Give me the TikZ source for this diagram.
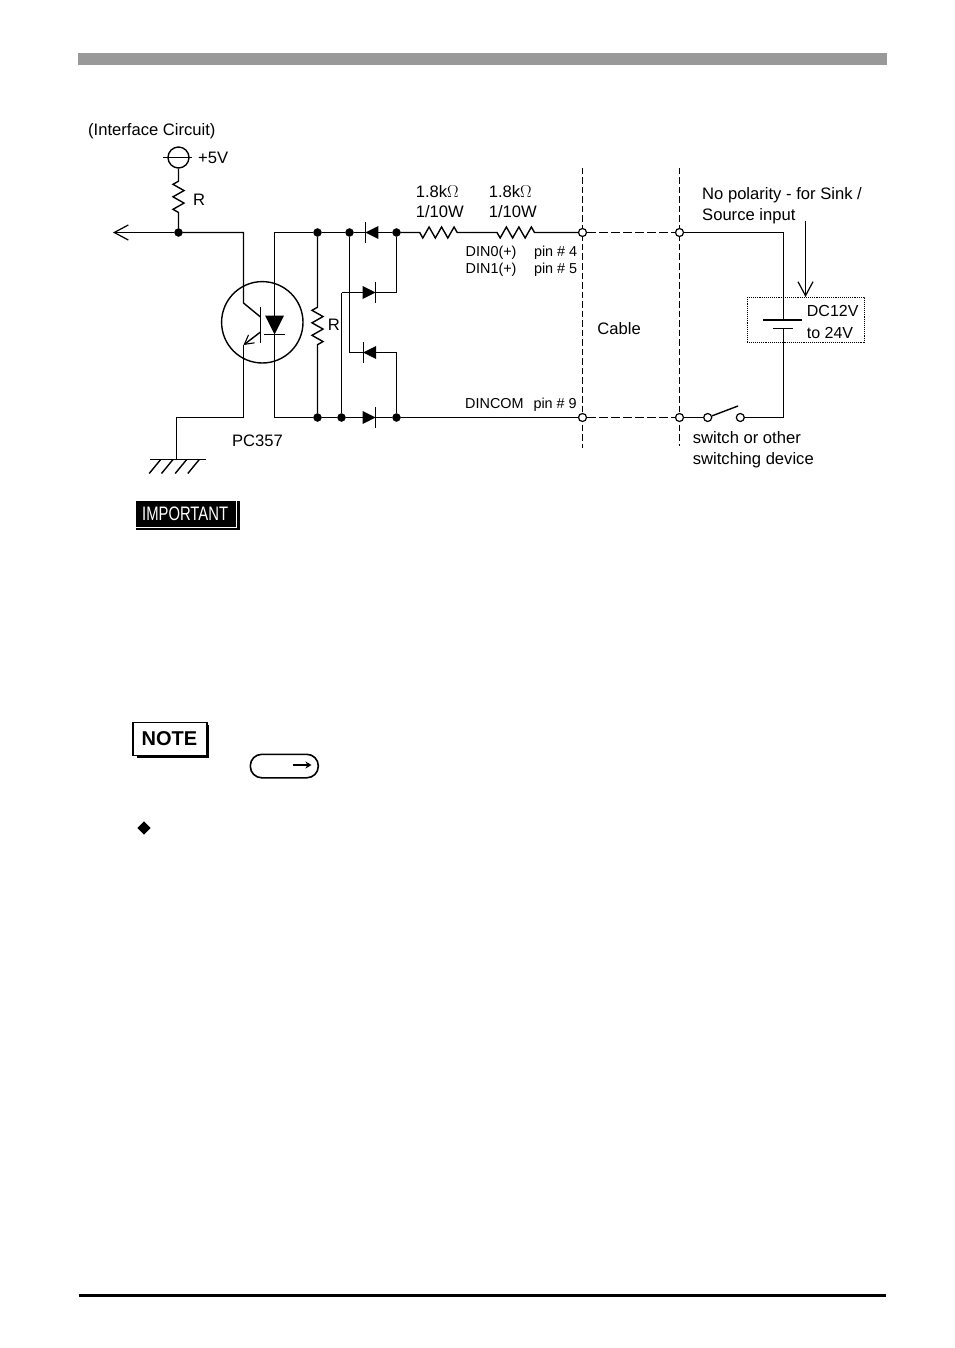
\documentclass[tikz,border=0pt]{standalone}
\usepackage{fontspec}
\setmainfont{Liberation Sans}
\usepackage{tikz}
\usetikzlibrary{arrows.meta,backgrounds,positioning,shapes.geometric,decorations.markings,decorations.pathmorphing}
\definecolor{headgray}{RGB}{153,153,153}
\tikzset{
    wire/.style={
    draw=black,line width=1.4pt
    },
    cablewire/.style={
    draw=black,line width=1.4pt,dash pattern=on 8.5pt off 3.5pt
    },
    cutline/.style={
    draw=black,line width=1.4pt,dash pattern=on 6.5pt off 3pt
    },
    junction/.style={
    circle,fill=black,draw=black,inner sep=0pt,minimum size=8pt
    },
    terminal/.style={
    circle,fill=white,draw=black,line width=1.2pt,inner sep=0pt,minimum size=8pt
    },
    resistor/.style 2 args={
    wire,decorate,decoration={zigzag,mirror,amplitude=5.5pt,segment length=12.5pt,pre length=#1,post length=#2}
    },
    diode/.style 2 args={
    wire,
    decoration={ markings,
      mark=at position #1 with {\fill[black] (-#2,-#2) -- (-#2,#2) -- (#2,0) -- cycle; \draw[line width=1.1pt] (#2,-10.5) -- (#2,10.5);}
      },
    postaction={decorate}
    },
    openarrow/.style={
    wire,-{Straight Barb[length=14pt,width=15pt,line width=1.2pt]}
    },
    txt/.style={
    inner sep=0pt,anchor=base west,font=\fontsize{16.6}{18}\selectfont
    },
    smalltxt/.style={
    inner sep=0pt,anchor=base west,font=\fontsize{14.4}{16}\selectfont
    },
}
\begin{document}
\begin{tikzpicture}[x=1pt,y=-1pt]
   \useasboundingbox (0,0) rectangle (954,1348);
   % page rules
   \node[fill=headgray,minimum width=809pt,minimum height=12pt,inner sep=0pt,anchor=north west] (headbar) at (78,53) {};
   \node[fill=black,minimum width=807pt,minimum height=2.6pt,inner sep=0pt,anchor=north west] (footbar) at (79,1294) {};

   % interface side
   \node[wire,circle,inner sep=0pt,minimum size=21pt] (plusv) at (178.5,157.5) {};
   \coordinate (plusl) at (163,157.5);
   \coordinate (plusr) at (192,157.5);
   \node[junction] (pull) at (178.5,232.5) {};
   \coordinate (out) at (113,232.5);
   \coordinate (coltop) at (243.5,232.5);
   \coordinate (colbend) at (243.5,303);
   \coordinate (colbase) at (260.5,317);
   \coordinate (basetop) at (260.5,307);
   \coordinate (basebot) at (260.5,343);
   \coordinate (emibase) at (260.5,332);
   \coordinate (emibend) at (243.5,345);
   \coordinate (emibot) at (243.5,417.5);
   \coordinate (gndtop) at (176.5,417.5);
   \coordinate (gnd) at (176.5,459.5);
   \coordinate (gndl) at (150,459.5);
   \coordinate (gndr) at (206,459.5);
   \node[wire,circle,inner sep=0pt,minimum size=81.4pt] (opto) at (262.3,322.3) {};
   \coordinate (ledtop) at (274.5,232.5);
   \coordinate (ledbot) at (274.5,417.5);

   % input network
   \node[junction] (topa) at (317.5,232.5) {};
   \node[junction] (topb) at (349.5,232.5) {};
   \node[junction] (topc) at (396.5,232.5) {};
   \node[junction] (bota) at (317.5,417.5) {};
   \node[junction] (botb) at (341.5,417.5) {};
   \node[junction] (botc) at (396.5,417.5) {};
   \coordinate (dtwol) at (341.5,292.5);
   \coordinate (dtwor) at (396.5,292.5);
   \coordinate (dthreel) at (349.5,352.5);
   \coordinate (dthreer) at (396.5,352.5);
   \coordinate (midres) at (477,232.5);
   \node[terminal] (ina) at (582.5,232.5) {};
   \node[terminal] (inb) at (582.5,417.5) {};

   % field side
   \node[terminal] (exta) at (679.5,232.5) {};
   \node[terminal] (extb) at (679.5,417.5) {};
   \node[terminal] (swl) at (707.7,417.5) {};
   \node[terminal] (swr) at (740.3,417.5) {};
   \coordinate (swarm) at (738,406);
   \coordinate (battop) at (783.5,232.5);
   \coordinate (batlong) at (783.5,320);
   \coordinate (batl) at (763,320);
   \coordinate (batr) at (802,320);
   \coordinate (batshort) at (783.5,328.5);
   \coordinate (bats) at (773,328.5);
   \coordinate (bate) at (793,328.5);
   \coordinate (batbot) at (783.5,417.5);
   \node[draw=black,densely dotted,line width=0.9pt,minimum width=116.5pt,minimum height=45pt,inner sep=0pt,anchor=north west] (dcbox) at (747,297) {};
   \coordinate (polar) at (805.5,220.7);
   \coordinate (polarend) at (805.5,297);

   % cable boundaries
   \coordinate (cutat) at (582.5,168);
   \coordinate (cutab) at (582.5,448);
   \coordinate (cutbt) at (679.5,168);
   \coordinate (cutbb) at (679.5,446);
   \begin{scope}[on background layer]
   \draw[cutline] (cutat) -- (cutab);
   \draw[cutline] (cutbt) -- (cutbb);
   \draw[cablewire] (ina) -- (exta);
   \draw[cablewire] (inb) -- (extb);
   \end{scope}

   \draw[wire] (plusl) -- (plusr);
   \draw[resistor={12.5pt}{10pt}] (plusv) -- (pull);
   \draw[openarrow] (pull) -- (out);
   \draw[wire] (pull) -- (coltop) -- (colbend) -- (colbase);
   \draw[wire] (basetop) -- (basebot);
   \draw[wire,-{Straight Barb[length=9pt,width=10pt,line width=1.1pt]}] (emibase) -- (emibend);
   \draw[wire] (emibend) -- (emibot) -- (gndtop) -- (gnd);
   \draw[wire] (gndl) -- (gndr);
   \foreach \hx in {160.7,173,186.7,199.3}
      \draw[wire] (\hx,459.5) -- ++(-11.5,14);
   \draw[diode={0.5}{9.5}] (ledtop) -- (ledbot);
   \draw[wire] (ledtop) -- (topa) -- (topb);
   \draw[wire] (ledbot) -- (bota) -- (botb);
   \draw[resistor={70.5pt}{67.5pt}] (topa) -- (bota);
   \draw[diode={0.53}{6.5}] (topc) -- (topb);
   \draw[diode={0.5}{6.5}] (botb) -- (botc);
   \draw[diode={0.5}{6.5}] (dtwol) -- (dtwor);
   \draw[diode={0.57}{6.5}] (dthreer) -- (dthreel);
   \draw[wire] (botb) -- (dtwol);
   \draw[wire] (topb) -- (dthreel);
   \draw[wire] (topc) -- (dtwor);
   \draw[wire] (dthreer) -- (botc);
   \draw[resistor={19pt}{18.5pt}] (topc) -- (midres);
   \draw[resistor={20pt}{42.5pt}] (midres) -- (ina);
   \draw[wire] (botc) -- (inb);

   \draw[wire] (exta) -- (battop) -- (batlong);
   \draw[wire,line width=2.2pt] (batl) -- (batr);
   \draw[wire] (bats) -- (bate);
   \draw[wire] (batshort) -- (batbot) -- (swr);
   \draw[wire,line width=1.8pt] (extb) -- (swl);
   \draw[wire] (swl) -- (swarm);
   \draw[openarrow] (polar) -- (polarend);

   % labels
   \node[txt] (ifcirc) at (88,135.7) {(Interface Circuit)};
   \node[txt] (fivev) at (198,163.3) {+5V};
   \node[txt] (rone) at (193,206) {R};
   \node[txt] (rtwo) at (327.7,330) {R};
   \node[txt] (pcpart) at (231.8,446) {PC357};
   \node[txt] (resa) at (415.6,197.3) {1.8k$\Omega$};
   \node[txt] (resb) at (488.6,197.3) {1.8k$\Omega$};
   \node[txt] (wata) at (415.6,217.7) {1/10W};
   \node[txt] (watb) at (488.6,217.7) {1/10W};
   \node[smalltxt] (dinz) at (465.5,256) {DIN0(+)};
   \node[smalltxt] (dino) at (465.5,273.3) {DIN1(+)};
   \node[smalltxt] (pinf) at (533.8,256) {pin \# 4};
   \node[smalltxt] (pinv) at (533.8,273.3) {pin \# 5};
   \node[smalltxt] (dincom) at (465,408) {DINCOM};
   \node[smalltxt] (pinn) at (533.3,408) {pin \# 9};
   \node[txt] (cable) at (597.2,334) {Cable};
   \node[txt] (nopol) at (702,200) {No polarity - for Sink /};
   \node[txt] (srcin) at (702,221) {Source input};
   \node[txt,font=\fontsize{16}{18}\selectfont] (dcv) at (806.7,316) {DC12V};
   \node[txt,font=\fontsize{16}{18}\selectfont] (dcw) at (806.7,338) {to 24V};
   \node[txt] (swa) at (692.7,443.3) {switch or other};
   \node[txt] (swb) at (692.7,464) {switching device};

   % page marks
   \node[fill=black,minimum width=104pt,minimum height=29pt,inner sep=0pt,anchor=north west] (impshadow) at (135.5,500.5) {};
   \node[fill=black,draw=white,line width=0.8pt,minimum width=101pt,minimum height=27pt,inner sep=0pt,anchor=north west] (impbox) at (135,500) {};
   \node[inner sep=0pt,anchor=base west,text=white,xscale=0.76,font=\fontsize{19.5}{20}\selectfont] (important) at (142,520) {IMPORTANT};
   \node[fill=black,minimum width=72pt,minimum height=33pt,inner sep=0pt,anchor=north west] (noteshadow) at (137,724.5) {};
   \node[fill=white,draw=black,line width=1.6pt,minimum width=74pt,minimum height=33pt,inner sep=0pt,anchor=north west] (notebox) at (132,721.5) {};
   \node[inner sep=0pt,anchor=base west,font=\fontsize{20}{20}\selectfont\bfseries] (note) at (141.5,745) {NOTE};
   \node[draw=black,line width=1.6pt,rounded corners=11.5pt,minimum width=68pt,minimum height=23.5pt,inner sep=0pt,anchor=north west] (refpill) at (249.5,753.5) {};
   \coordinate (refa) at (293,765);
   \coordinate (refb) at (311.5,765);
   \draw[line width=1.7pt,-{Stealth[length=6pt,width=7pt]}] (refa) -- (refb);
   \node[diamond,fill=black,inner sep=0pt,minimum size=13.5pt] (bullet) at (144,828) {};
\end{tikzpicture}
\end{document}
